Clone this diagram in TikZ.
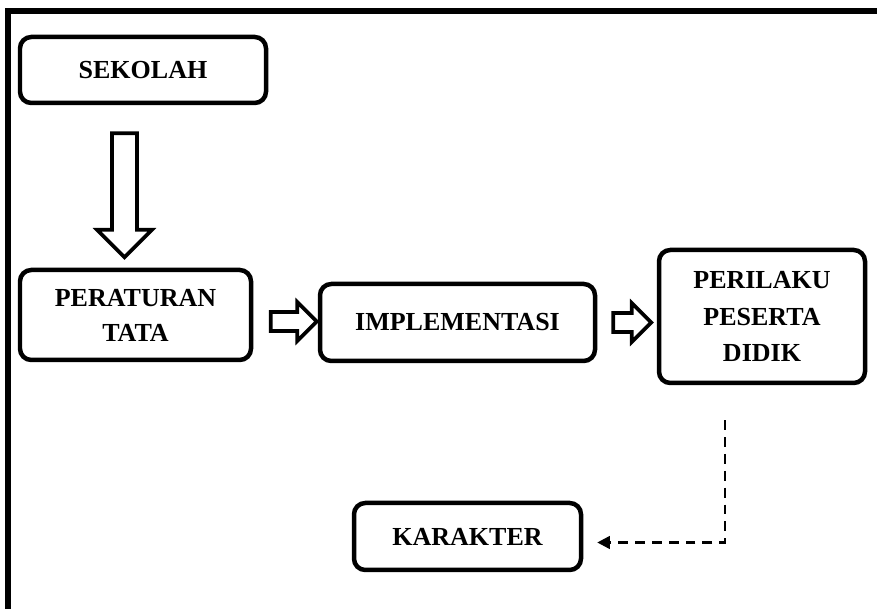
\documentclass[tikz,border=0pt]{standalone}
\usepackage{fontspec}
\setmainfont{Liberation Serif}
\usetikzlibrary{arrows.meta, shapes.arrows}

\begin{document}
\begin{tikzpicture}[
      >=Triangle,
      font=\fontsize{18.5}{25}\selectfont\bfseries,
      flowbox/.style={draw, line width=3.2pt, rounded corners=8pt, align=center, inner sep=3pt},
      bigarrow/.style={draw, single arrow, line width=2.6pt, fill=white, inner xsep=0pt, single arrow tip angle=90},
      smallarrow/.style={draw, single arrow, line width=2.6pt, fill=white, inner xsep=0pt, inner ysep=0.19cm,
        single arrow tip angle=90, single arrow head extend=0.25cm},
  ]

  \useasboundingbox (0, 0) rectangle (21.925, -15.225);

  % outer frame (only left and top edge show)
  \draw[line width=3.6pt] (0.2, -15.3) |- (22, -0.275);

  % --- Boxes ---
  \node[flowbox, minimum width=6.15cm, minimum height=1.65cm] (sekolah) at (3.575, -1.75) {SEKOLAH};
  \node[flowbox, minimum width=5.775cm, minimum height=2.25cm] (peraturan) at (3.3875, -7.875) {PERATURAN\\TATA};
  \node[flowbox, minimum width=6.875cm, minimum height=1.925cm] (implementasi) at (11.4375, -8.0625) {IMPLEMENTASI};
  \node[flowbox, minimum width=5.15cm, minimum height=3.325cm] (perilaku) at (19.05, -7.9125) {PERILAKU\\[1pt]PESERTA\\[1pt]DIDIK};
  \node[flowbox, minimum width=5.675cm, minimum height=1.675cm] (karakter) at (11.6875, -13.4125) {KARAKTER};

  % --- Block arrows ---
  \node[bigarrow, rotate=-90, minimum height=3.1cm, inner ysep=0.265cm, single arrow head extend=0.375cm] (down) at (3.1125, -4.725) {};
  \node[smallarrow, minimum height=1.15cm] (right1) at (7.225, -8.0375) {};
  \node[smallarrow, minimum height=0.95cm] (right2) at (15.6875, -8.0625) {};

  % --- Dashed link ---
  \coordinate (dstart) at ([xshift=-0.925cm, yshift=-0.875cm]perilaku.south);
  \draw[->, line width=1.8pt, dash pattern=on 7pt off 5pt, >={Triangle[length=9pt, width=9pt]}]
      (dstart) |- ([xshift=0.35cm, yshift=-0.15cm]karakter.east);

\end{tikzpicture}
\end{document}
